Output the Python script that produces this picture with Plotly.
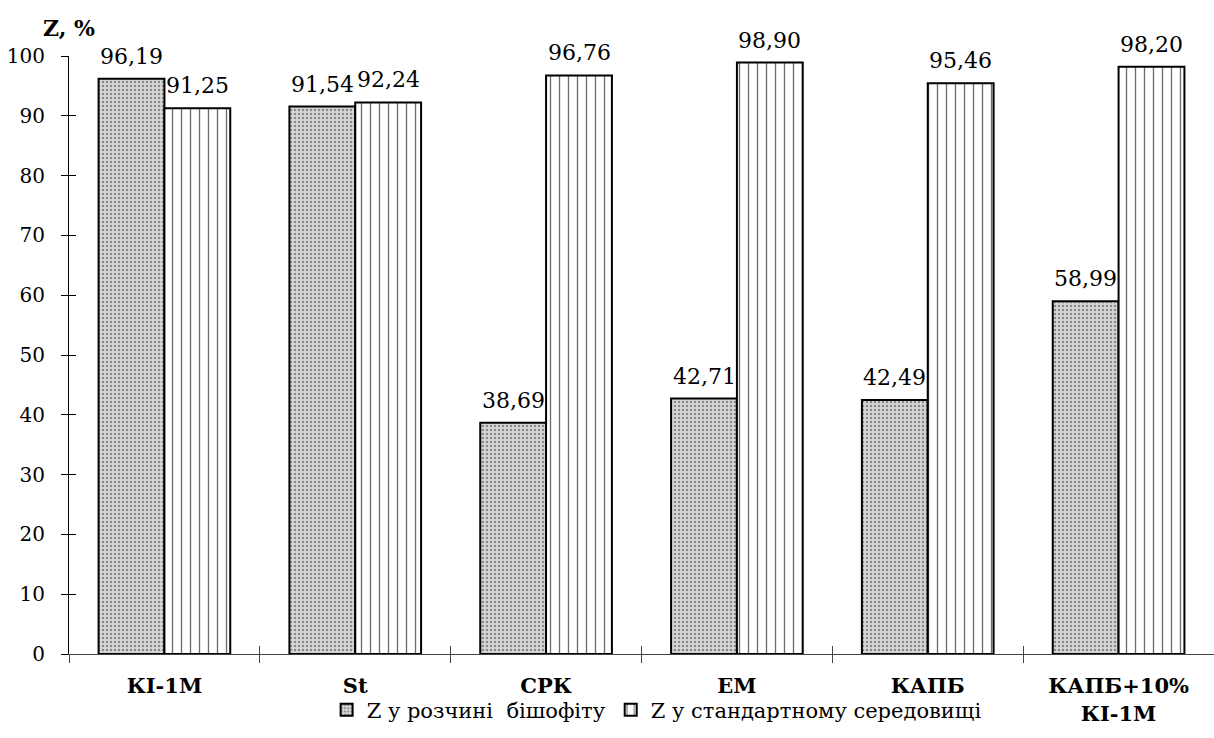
import plotly.graph_objects as go

# Inhibitor samples and protection degree Z (%) in two media
categories = ["КІ-1М", "St", "СРК", "ЕМ", "КАПБ", "КАПБ+10%<br>КІ-1М"]
z_bischofite = [96.19, 91.54, 38.69, 42.71, 42.49, 58.99]
z_standard = [91.25, 92.24, 96.76, 98.90, 95.46, 98.20]
series_names = ["Z у розчині  бішофіту", "Z у стандартному середовищі"]
y_ticks = list(range(0, 101, 10))

FONT = "DejaVu Serif"
BARGAP = 0.31
half_bar = (1 - BARGAP) / 4  # centre offset of each bar inside a group

x = list(range(len(categories)))
boundaries = [i - 0.5 for i in range(len(categories) + 1)]


def fmt(v):
    return f"{v:.2f}".replace(".", ",")


fig = go.Figure()
fig.add_trace(go.Bar(
    x=x, y=z_bischofite, name=series_names[0],
    marker=dict(
        color="#cfcfcf",
        line=dict(color="black", width=2),
        pattern=dict(shape=".", bgcolor="#d6d6d6", fgcolor="#8a8a8a",
                     size=4, solidity=0.3, fillmode="replace"),
    ),
))
fig.add_trace(go.Bar(
    x=x, y=z_standard, name=series_names[1],
    marker=dict(
        color="white",
        line=dict(color="black", width=2),
        pattern=dict(shape="|", bgcolor="white", fgcolor="#6e6e6e",
                     size=9, solidity=0.15, fillmode="replace"),
    ),
))

# empty helper traces so the overlay axes (tick crosses) get drawn
for xa, ya in (("x2", "y"), ("x3", "y"), ("x", "y2")):
    fig.add_trace(go.Scatter(x=[None], y=[None], xaxis=xa, yaxis=ya,
                             mode="markers", showlegend=False,
                             hoverinfo="skip"))

# value labels above the bars
annotations = []
for vals, sign in ((z_bischofite, -1), (z_standard, 1)):
    for i, v in enumerate(vals):
        annotations.append(dict(
            x=i + sign * half_bar, y=v, xref="x", yref="y",
            text=fmt(v), showarrow=False, yanchor="bottom", yshift=8,
            font=dict(family=FONT, size=22, color="black"),
        ))
annotations.append(dict(
    x=0, y=1.047, xref="paper", yref="paper", text="<b>Z, %</b>",
    showarrow=False, xanchor="center", yanchor="middle",
    font=dict(family=FONT, size=22, color="black"),
))

rng = [-0.5, len(categories) - 0.5]
fig.update_layout(
    width=1214, height=738,
    margin=dict(l=69, r=0, t=56, b=84),
    paper_bgcolor="white", plot_bgcolor="white",
    barmode="group", bargap=BARGAP, bargroupgap=0,
    font=dict(family=FONT, color="black"),
    annotations=annotations,
    showlegend=True,
    legend=dict(
        orientation="h", x=0.225, xanchor="left", y=-0.094, yanchor="middle",
        font=dict(family=FONT, size=21, color="black"),
        itemwidth=30, bgcolor="rgba(0,0,0,0)",
    ),
    xaxis=dict(
        range=rng, tickmode="array", tickvals=x,
        ticktext=[f"<b>{c}</b>" for c in categories],
        ticks="", tickfont=dict(family=FONT, size=21, color="black"),
        ticklabelstandoff=13,
        showline=True, linecolor="#444", linewidth=1,
        showgrid=False, zeroline=False, fixedrange=True,
    ),
    xaxis2=dict(
        range=rng, overlaying="x", anchor="y", side="bottom",
        tickmode="array", tickvals=boundaries, ticks="outside", ticklen=8,
        tickcolor="#444", showticklabels=False, showgrid=False,
        zeroline=False, showline=False, fixedrange=True,
    ),
    xaxis3=dict(
        range=rng, overlaying="x", anchor="y", side="bottom",
        tickmode="array", tickvals=boundaries, ticks="inside", ticklen=8,
        tickcolor="#444", showticklabels=False, showgrid=False,
        zeroline=False, showline=False, fixedrange=True,
    ),
    yaxis=dict(
        range=[0, 100], tickmode="array", tickvals=y_ticks,
        ticks="outside", ticklen=7, tickcolor="black",
        ticklabelstandoff=12,
        tickfont=dict(family=FONT, size=20, color="black"),
        showline=True, linecolor="black", linewidth=1,
        showgrid=False, zeroline=False, fixedrange=True,
    ),
    yaxis2=dict(
        range=[0, 100], overlaying="y", anchor="x", side="left",
        tickmode="array", tickvals=y_ticks, ticks="inside", ticklen=7,
        tickcolor="black", showticklabels=False, showgrid=False,
        zeroline=False, showline=False, fixedrange=True,
    ),
)

fig.write_html("out.html")
